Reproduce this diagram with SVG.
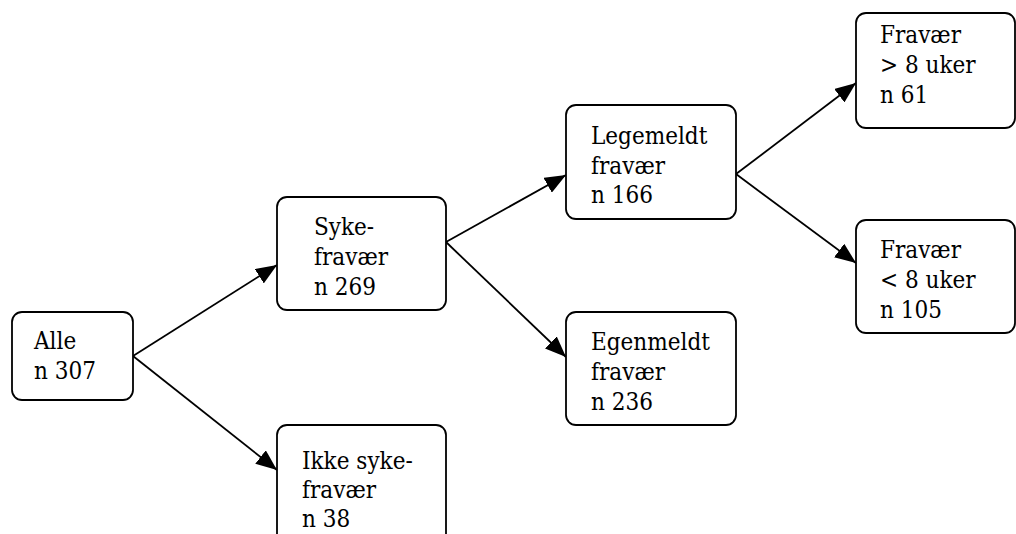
<svg xmlns="http://www.w3.org/2000/svg" width="1016" height="534" viewBox="0 0 1016 534">
  <style>
    .box { fill: #ffffff; stroke: #000000; stroke-width: 1.8; }
    .lbl { font-family: "DejaVu Serif", serif; font-stretch: condensed; font-size: 24px; fill: #000000; }
    .edge { fill: none; stroke: #000000; stroke-width: 1.8; marker-end: url(#arrow); }
  </style>
  <defs>
    <marker id="arrow" markerUnits="userSpaceOnUse" markerWidth="21" markerHeight="17" refX="21" refY="8.5" orient="auto">
      <path d="M0,0 L21,8.5 L0,17 z" fill="#000000"/>
    </marker>
  </defs>
  <rect width="1016" height="534" fill="#ffffff"/>

  <!-- connectors -->
  <g id="connectors">
    <line class="edge" x1="133" y1="356" x2="277" y2="265"/>
    <line class="edge" x1="133" y1="356" x2="277" y2="470"/>
    <line class="edge" x1="446" y1="242" x2="566" y2="175"/>
    <line class="edge" x1="446" y1="242" x2="566" y2="357"/>
    <line class="edge" x1="736" y1="174" x2="856" y2="83"/>
    <line class="edge" x1="736" y1="174" x2="856" y2="263"/>
  </g>

  <!-- nodes -->
  <g id="alle">
    <rect class="box" x="12" y="312" width="121" height="88" rx="10"/>
    <text class="lbl" x="34" y="349">Alle</text>
    <text class="lbl" x="34" y="379">n 307</text>
  </g>
  <g id="sykefravaer">
    <rect class="box" x="277" y="197" width="169" height="113" rx="10"/>
    <text class="lbl" x="314" y="235">Syke-</text>
    <text class="lbl" x="314" y="265">fravær</text>
    <text class="lbl" x="314" y="295">n 269</text>
  </g>
  <g id="ikke-sykefravaer">
    <rect class="box" x="277" y="425" width="169" height="130" rx="10"/>
    <text class="lbl" x="302" y="469">Ikke syke-</text>
    <text class="lbl" x="302" y="498">fravær</text>
    <text class="lbl" x="302" y="527">n 38</text>
  </g>
  <g id="legemeldt">
    <rect class="box" x="566" y="105" width="170" height="114" rx="10"/>
    <text class="lbl" x="591" y="144">Legemeldt</text>
    <text class="lbl" x="591" y="174">fravær</text>
    <text class="lbl" x="591" y="203">n 166</text>
  </g>
  <g id="egenmeldt">
    <rect class="box" x="566" y="312" width="170" height="113" rx="10"/>
    <text class="lbl" x="591" y="350">Egenmeldt</text>
    <text class="lbl" x="591" y="380">fravær</text>
    <text class="lbl" x="591" y="410">n 236</text>
  </g>
  <g id="fravaer-over-8">
    <rect class="box" x="856" y="13" width="159" height="115" rx="10"/>
    <text class="lbl" x="880" y="43">Fravær</text>
    <text class="lbl" x="880" y="73">&gt; 8 uker</text>
    <text class="lbl" x="880" y="103">n 61</text>
  </g>
  <g id="fravaer-under-8">
    <rect class="box" x="856" y="220" width="159" height="113" rx="10"/>
    <text class="lbl" x="880" y="258">Fravær</text>
    <text class="lbl" x="880" y="288">&lt; 8 uker</text>
    <text class="lbl" x="880" y="318">n 105</text>
  </g>
</svg>
